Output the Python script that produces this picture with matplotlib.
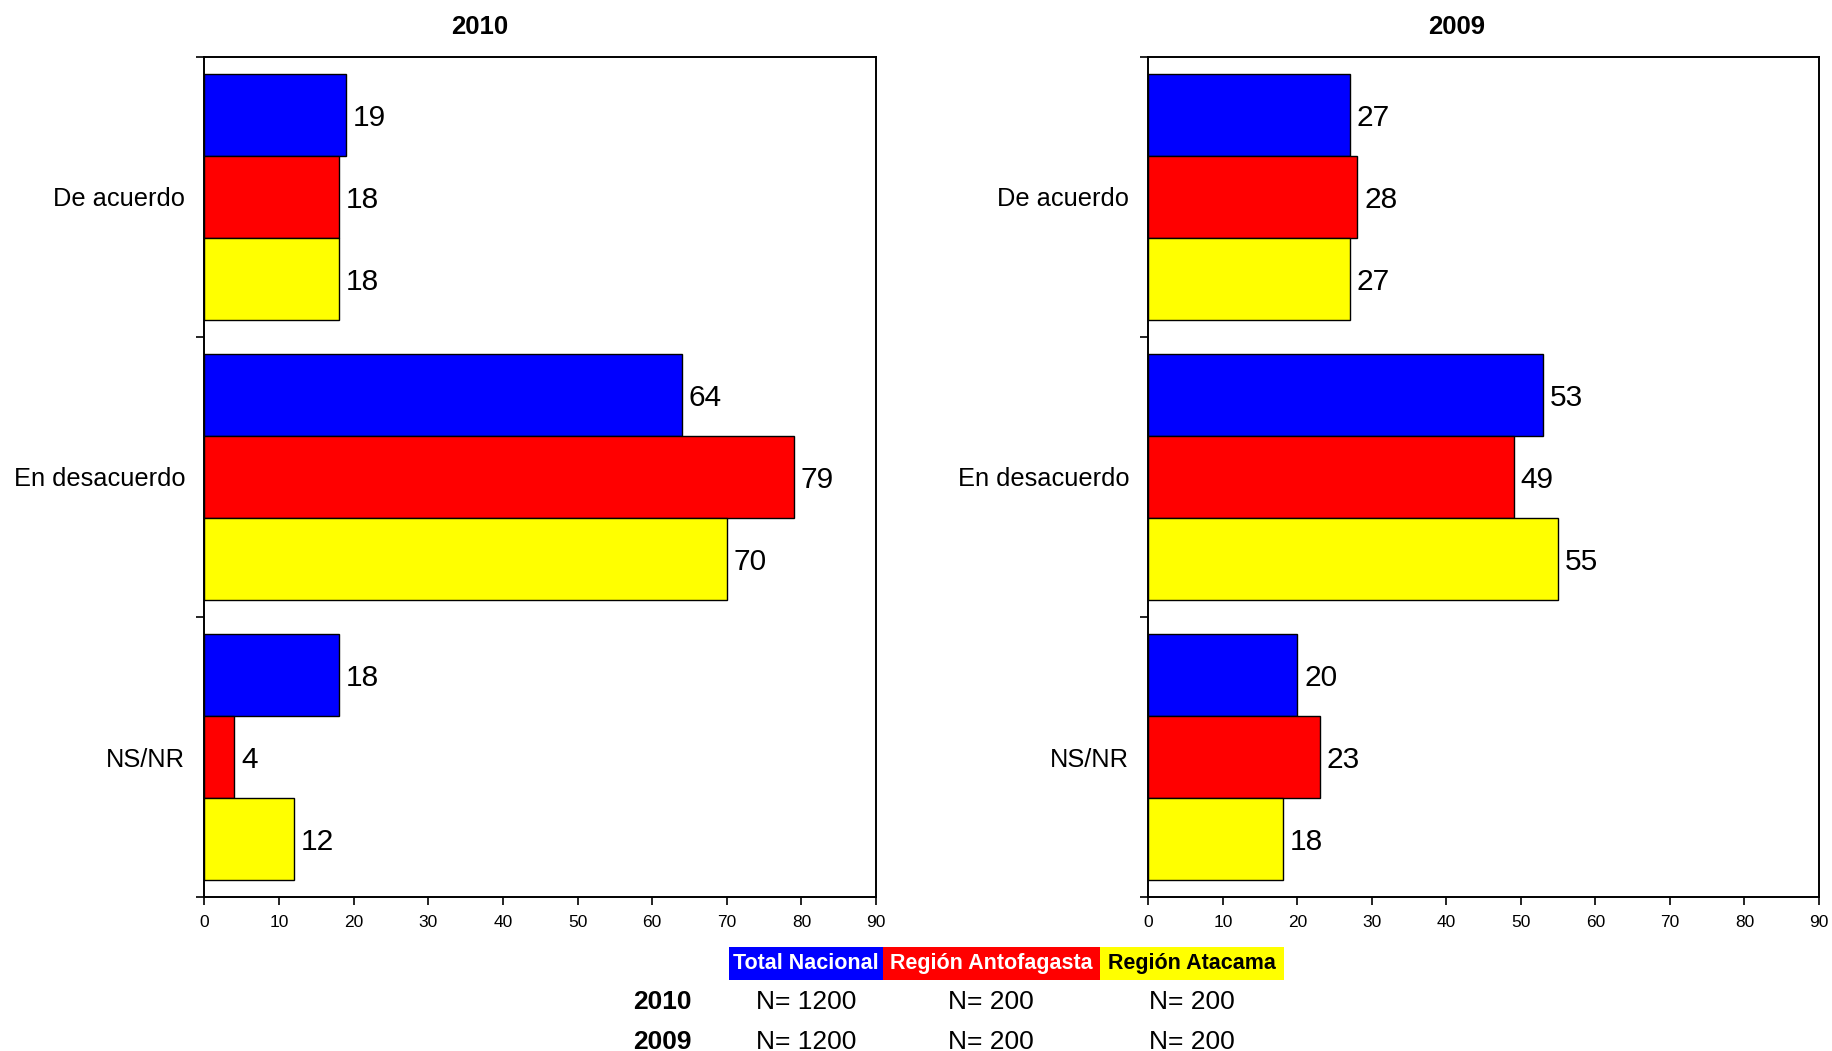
import numpy as np
import matplotlib
matplotlib.use('Agg')
import matplotlib.pyplot as plt
from matplotlib.patches import Rectangle

plt.rcParams['font.family'] = ['Liberation Sans', 'DejaVu Sans']

categories = ['De acuerdo', 'En desacuerdo', 'NS/NR']
series = ['Total Nacional', 'Región Antofagasta', 'Región Atacama']
colors = ['#0000FF', '#FF0000', '#FFFF00']
label_colors = ['white', 'white', 'black']

# rows = series, cols = categories
vals_2010 = [[19, 64, 18],
             [18, 79, 4],
             [18, 70, 12]]
vals_2009 = [[27, 53, 20],
             [28, 49, 23],
             [27, 55, 18]]

years = ['2010', '2009']
n_2010 = [1200, 200, 200]
n_2009 = [1200, 200, 200]
xticks = [0, 10, 20, 30, 40, 50, 60, 70, 80, 90]


def draw_panel(ax, vals):
    y = np.arange(len(categories))
    h = 0.292
    for (i, row) in enumerate(vals):
        ypos = y + (i - 1) * h
        ax.barh(ypos, row, height=h, color=colors[i], edgecolor='black', linewidth=1.0)
        for (yy, v) in zip(ypos, row):
            ax.annotate(str(v), (v, yy), xytext=(5, -2), textcoords='offset points',
                        ha='left', va='center', fontsize=21.5)
    ax.set_ylim(2.5, -0.5)
    ax.set_xlim(0, 90)
    ax.set_xticks(xticks)
    ax.tick_params(axis='x', labelsize=12.5, length=6, width=1.2, pad=7, direction='out')
    ax.set_yticks(y)
    ax.set_yticklabels(categories, fontsize=18.3)
    ax.tick_params(axis='y', which='major', length=0, pad=14)
    ax.set_yticks([-0.5, 0.5, 1.5, 2.5], minor=True)
    ax.tick_params(axis='y', which='minor', length=6, width=1.2, direction='out')
    for sp in ax.spines.values():
        sp.set_linewidth(1.4)
        sp.set_color('black')


fig = plt.figure(figsize=(18.32, 10.51), dpi=100)
ax1 = fig.add_axes([0.1116, 0.1465, 0.3666, 0.7993])
ax2 = fig.add_axes([0.6269, 0.1465, 0.3660, 0.7993])
draw_panel(ax1, vals_2010)
draw_panel(ax2, vals_2009)

fig.text(0.262, 0.9745, years[0], ha='center', va='center', fontsize=18.5, fontweight='bold')
fig.text(0.7953, 0.9745, years[1], ha='center', va='center', fontsize=18.5, fontweight='bold')

# legend boxes
box_x = [0.398, 0.482, 0.6007, 0.7009]
(box_y0, box_y1) = (0.0676, 0.0985)
for i in range(3):
    fig.patches.append(Rectangle((box_x[i], box_y0), box_x[i + 1] - box_x[i], box_y1 - box_y0,
                                 transform=fig.transFigure, facecolor=colors[i], edgecolor='none'))
    fig.text((box_x[i] + box_x[i + 1]) / 2, (box_y0 + box_y1) / 2, series[i], ha='center', va='center',
             fontsize=15.5, fontweight='bold', color=label_colors[i])

col_x = [0.440, 0.5408, 0.6505]
row_y = [0.0463, 0.0083]
for (yr, ns, ry) in zip(years, [n_2010, n_2009], row_y):
    fig.text(0.3614, ry, yr, ha='center', va='center', fontsize=19, fontweight='bold')
    for (cx, n) in zip(col_x, ns):
        fig.text(cx, ry, f'N= {n}', ha='center', va='center', fontsize=19)

fig.savefig('out.png', dpi=100)
plt.close(fig)
